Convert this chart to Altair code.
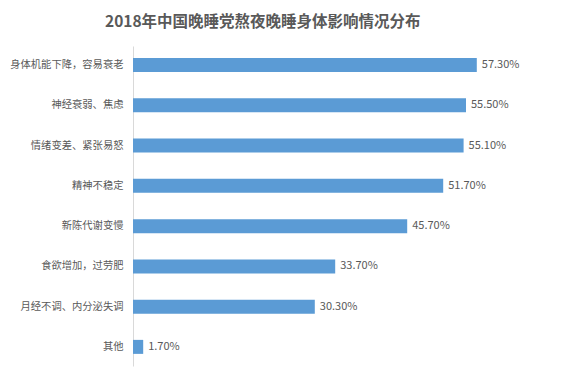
import altair as alt
import pandas as pd

categories = ["身体机能下降，容易衰老", "神经衰弱、焦虑", "情绪变差、紧张易怒", "精神不稳定",
              "新陈代谢变慢", "食欲增加，过劳肥", "月经不调、内分泌失调", "其他"]
values = [57.3, 55.5, 55.1, 51.7, 45.7, 33.7, 30.3, 1.7]

df = pd.DataFrame({"cat": categories, "val": values})
df["label"] = df["val"].map(lambda v: f"{v:.2f}%")

FONT = "Noto Sans CJK SC"
GRAY = "#595959"

base = alt.Chart(df).encode(
    y=alt.Y("cat:N", sort=categories,
            axis=alt.Axis(title=None, ticks=False, domain=True, domainColor="#d9d9d9",
                          labelPadding=10, labelFont=FONT, labelFontSize=10.3,
                          labelColor=GRAY, grid=False, labelLimit=200),
            scale=alt.Scale(paddingInner=0.65, paddingOuter=0.3)),
    x=alt.X("val:Q", scale=alt.Scale(domain=[0, 70]), axis=None),
)

bars = base.mark_bar(color="#5B9BD5", size=14)
text = base.mark_text(align="left", baseline="middle", dx=5, font=FONT,
                      fontSize=11, color=GRAY).encode(text="label:N")

chart = (bars + text).properties(
    width=420, height=320,
    autosize=alt.AutoSizeParams(type="none"),
    padding={"left": 125, "top": 38, "right": 3, "bottom": 2},
    title=alt.TitleParams("2018年中国晚睡党熬夜晚睡身体影响情况分布", font=FONT,
                          fontSize=15.5, fontWeight="bold", color=GRAY,
                          anchor="start", frame="group", dx=-28, offset=16),
).configure_view(stroke=None)

chart.save("out.html", embed_options={"renderer": "svg", "actions": False})
